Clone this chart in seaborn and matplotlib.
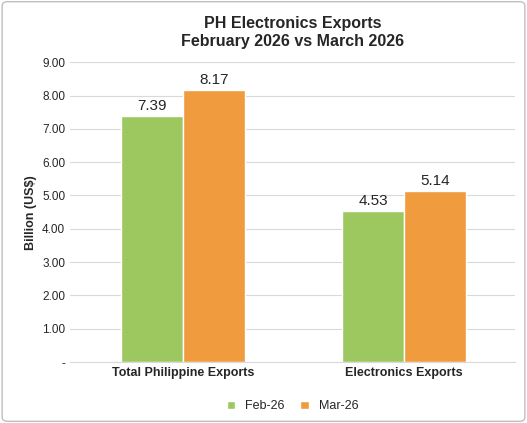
import matplotlib
matplotlib.use("Agg")
import matplotlib.pyplot as plt
import seaborn as sns
import pandas as pd
from matplotlib.patches import FancyBboxPatch

categories = ["Total Philippine Exports", "Electronics Exports"]
feb = [7.39, 4.53]
mar = [8.17, 5.14]
series = ["Feb-26", "Mar-26"]

df = pd.DataFrame({
    "cat": categories * 2,
    "val": feb + mar,
    "ser": [series[0]] * 2 + [series[1]] * 2,
})

sns.set_style("white")
plt.rcParams["font.family"] = ["Liberation Sans", "DejaVu Sans"]
fig = plt.figure(figsize=(5.27, 4.23), dpi=100)
ax = fig.add_axes([0.133, 0.144, 0.844, 0.709])
sns.barplot(data=df, x="cat", y="val", hue="ser", palette=["#9DC85F", "#F09C3E"],
            width=0.56, ax=ax, legend=True, saturation=1)
for c in ax.containers:
    ax.bar_label(c, fmt="%.2f", fontsize=11, padding=2)
ax.set_ylim(0, 9)
ax.set_xlim(-0.51, 1.50)
ax.set_yticks(range(10))
ax.set_yticklabels(["-"] + [f"{i:.2f}" for i in range(1, 10)], fontsize=8.5)
ax.yaxis.grid(True, color="#D9D9D9", lw=0.8)
ax.set_axisbelow(True)
for s in ["top", "right", "left"]:
    ax.spines[s].set_visible(False)
ax.spines["bottom"].set_color("#D9D9D9")
ax.tick_params(axis="both", length=0)
ax.set_xticklabels(categories, fontsize=9, fontweight="bold")
ax.set_xlabel("")
ax.set_ylabel("Billion (US$)", fontsize=9, fontweight="bold")
ax.set_title("PH Electronics Exports\nFebruary 2026 vs March 2026", fontsize=11.5,
             fontweight="bold", pad=12)
ax.legend(loc="upper center", bbox_to_anchor=(0.5, -0.09), ncol=2, frameon=False,
          fontsize=9, handlelength=0.7, handleheight=0.7, columnspacing=1.2)
fig.patches.append(FancyBboxPatch((0.004, 0.004), 0.992, 0.992, boxstyle="round,pad=0,rounding_size=0.01",
                                  transform=fig.transFigure, fill=False, ec="#BFBFBF", lw=1))
fig.savefig("out.png", dpi=100)
